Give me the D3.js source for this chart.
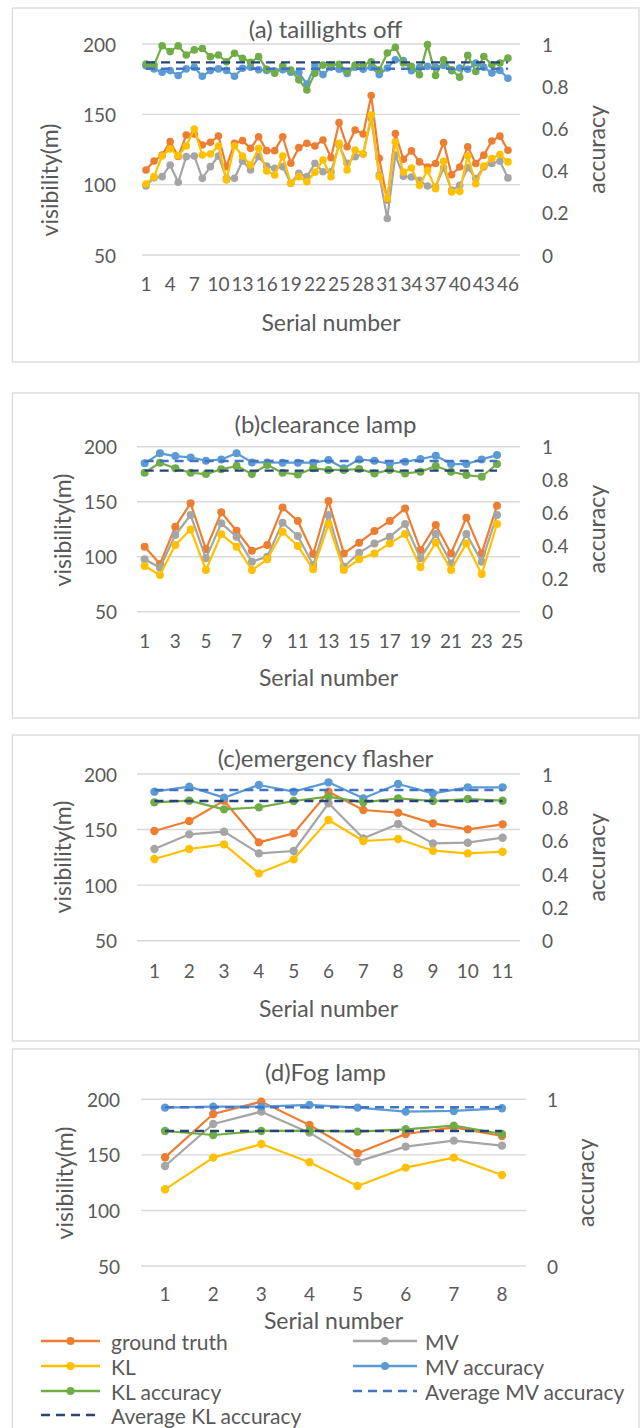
<!DOCTYPE html>
<html><head><meta charset="utf-8">
<script src="https://cdn.jsdelivr.net/npm/d3@7"></script>
<style>
body{margin:0;background:#fff}
text{font-family:Lato,'Open Sans',sans-serif;fill:#595959}
</style>
</head><body>
<svg id="c" width="641" height="1428"></svg>
<script>
// ---------- DATA ----------
const leftTicks = [50, 100, 150, 200];
const rightTicks = [0, 0.2, 0.4, 0.6, 0.8, 1];
const rightTicksD = [0, 1];
const seriesNames = ["ground truth", "MV", "KL", "MV accuracy", "KL accuracy", "Average MV accuracy", "Average KL accuracy"];

// (a) taillights off : 46 samples (47 category slots)
const truthA = [110.4,116.8,121,130.6,120,135.3,136,128.2,130.1,134.6,112.8,129.4,131.3,125.8,134.1,124.2,124.2,134.1,115.2,126.3,129.4,127.5,131.8,119.2,144.1,127,138.9,136,163.3,118.7,89.1,136.4,118.1,124,116.2,112.6,115,130,107.1,112.6,126.9,115,121,131,134.5,124.5];
const mvA = [99,105,105.7,114,101.7,119.9,120.4,104.5,112.8,120.4,104.5,104.5,116.8,110.4,119.9,113.3,111.6,112.8,101,108.1,105.7,115.2,109.2,109.2,128.2,115.2,119.9,121.8,147,106.9,76,121,106,105.5,103.1,99,98.3,112,96,99.5,112,104.3,112.6,115,116.7,104.8];
const klA = [100.5,105.7,120.4,125.4,120.6,127.5,139.6,121.1,121.8,127.5,103.3,127.7,120.4,114,125.8,109.7,106.9,120.4,101,105.7,102.1,108.8,117.5,105.7,129.4,110.4,124.6,121.8,149.5,105.7,90.3,130.5,109,111.9,99.5,110.2,97.1,116.7,94.8,95.2,120.5,100.7,113.3,118.6,121.4,116.2];
const mvAccA = [.897,.882,.866,.874,.851,.882,.89,.847,.874,.882,.875,.847,.885,.89,.878,.875,.872,.878,.866,.866,.81,.897,.855,.89,.88,.86,.89,.88,.89,.855,.886,.925,.921,.873,.889,.894,.89,.898,.873,.886,.88,.91,.89,.862,.875,.838];
const klAccA = [.905,.90,.992,.964,.991,.948,.972,.979,.94,.948,.916,.956,.932,.913,.94,.88,.861,.896,.877,.83,.782,.861,.9,.9,.904,.869,.9,.9,.916,.877,.957,.984,.91,.894,.854,.997,.851,.925,.878,.843,.946,.87,.941,.902,.91,.933];
const avgMvA = 0.883, avgKlA = 0.913;

// (b) clearance lamp : 24 samples (25 category slots)
const truthB = [109.1,93.3,127.3,148.5,106.7,140.3,123.6,105.5,110.6,144.8,132.4,102.4,150.6,103,112.7,123.3,132.4,143.9,106.1,128.8,103,135.5,103,146.4];
const mvB = [97.6,90,119.7,137.9,98.5,130.3,118.2,95.5,100,130.9,118.8,92.4,137.9,90.9,103.6,112.1,118.2,129.7,98.5,120.6,93.9,120.6,95.5,137.9];
const klB = [91.5,83.3,110.6,124.8,87.9,120.3,109.1,87.9,97.6,122.7,109.7,88.5,129.7,87.9,97.6,103,112.1,120.6,90.3,112.7,87.9,112.1,84.2,129.7];
const mvAccB = [.899,.96,.943,.935,.915,.923,.96,.905,.905,.903,.903,.903,.919,.869,.923,.915,.895,.909,.925,.945,.895,.895,.923,.949];
const klAccB = [.842,.903,.869,.842,.834,.863,.883,.834,.889,.842,.832,.869,.859,.859,.865,.838,.859,.838,.848,.883,.848,.828,.818,.895];
const avgMvB = 0.913, avgKlB = 0.855;

// (c) emergency flasher : 11 samples
const truthC = [148.7,157.7,176,138.5,146.6,184.1,167.6,165.2,155.6,150.2,154.7];
const mvC = [132.5,145.7,148.1,128.6,130.7,173.6,142.1,155,137.6,138.2,142.7];
const klC = [123.5,132.5,136.7,110.6,123.2,158.6,139.7,141.5,131,128.6,130.1];
const mvAccC = [.894,.924,.858,.934,.894,.95,.854,.94,.884,.92,.92];
const klAccC = [.83,.84,.788,.8,.838,.864,.83,.854,.838,.85,.84];
const avgMvC = 0.904, avgKlC = 0.838;

// (d) Fog lamp : 8 samples
const truthD = [147.8,186.8,197.9,176.9,151.4,168.8,174.8,167];
const mvD = [140,177.8,188.9,170,143.9,157.4,162.8,158.3];
const klD = [119,147.5,159.8,143.3,122,138.5,147.5,131.9];
const mvAccD = [.95,.956,.956,.966,.95,.926,.93,.946];
const klAccD = [.81,.786,.81,.812,.806,.82,.842,.792];
const avgMvD = 0.952, avgKlD = 0.81;

// ---------- STYLE / LAYOUT ----------
const COL = {truth:'#ED7D31', mv:'#A5A5A5', kl:'#FFC000', mvAcc:'#5B9BD5', klAcc:'#70AD47', avgMv:'#4472C4', avgKl:'#264478'};
const GRID = '#D9D9D9';
const FS = {tick:19, axisTitle:23, title:24, legend:21};

const panels = [
  {title:'(a) taillights off', slots:47, step:3, left:142, right:520, top:44, bottom:255,
   box:[12.5,8,639,362], lx:116, rx:542, rTicks:rightTicks, visX:49, visY:180, accX:596,
   xlabY:283, xtitleY:322, titleY:28, r:3.8,
   truth:truthA, mv:mvA, kl:klA, mvAcc:mvAccA, klAcc:klAccA, avgMv:avgMvA, avgKl:avgKlA},
  {title:'(b)clearance lamp', slots:25, step:2, left:137, right:520, top:446.7, bottom:611.7,
   box:[12.5,393,639,718], lx:117, rx:542, rTicks:rightTicks, visX:62, visY:530, accX:596,
   xlabY:640, xtitleY:677, titleY:423, r:4,
   truth:truthB, mv:mvB, kl:klB, mvAcc:mvAccB, klAcc:klAccB, avgMv:avgMvB, avgKl:avgKlB},
  {title:'(c)emergency flasher', slots:11, step:1, left:137, right:520, top:774, bottom:940.7,
   box:[12.5,735,639,1041], lx:117, rx:542, rTicks:rightTicks, visX:62, visY:857, accX:596,
   xlabY:970, xtitleY:1008, titleY:757, r:4.2,
   truth:truthC, mv:mvC, kl:klC, mvAcc:mvAccC, klAcc:klAccC, avgMv:avgMvC, avgKl:avgKlC},
  {title:'(d)Fog lamp', slots:8, step:1, left:141, right:526, top:1099.3, bottom:1266,
   box:[12.5,1049,639,1450], lx:120, rx:547, rTicks:rightTicksD, visX:64, visY:1183, accX:585,
   xlabY:1293, xtitleY:1320, titleY:1071, r:4.2,
   truth:truthD, mv:mvD, kl:klD, mvAcc:mvAccD, klAcc:klAccD, avgMv:avgMvD, avgKl:avgKlD}
];

const svg = d3.select('#c');
svg.append('rect').attr('width',641).attr('height',1428).attr('fill','#fff');

function txt(g, s, x, y, size, anchor, rot){
  const t = g.append('text').attr('x',x).attr('y',y).attr('font-size',size)
    .attr('dominant-baseline','central').attr('text-anchor',anchor||'middle').text(s);
  if(rot) t.attr('transform',`rotate(${rot},${x},${y})`);
  return t;
}

panels.forEach(p=>{
  const g = svg.append('g');
  g.append('rect').attr('x',p.box[0]).attr('y',p.box[1])
    .attr('width',p.box[2]-p.box[0]).attr('height',p.box[3]-p.box[1])
    .attr('fill','#fff').attr('stroke',GRID).attr('stroke-width',1.3);

  const cats = d3.range(1, p.slots+1);
  const x = d3.scaleBand().domain(cats).range([p.left,p.right]).padding(0);
  const cx = i => x(i) + x.bandwidth()/2;
  const y = d3.scaleLinear().domain([50,200]).range([p.bottom,p.top]);
  const y2 = d3.scaleLinear().domain([0,1]).range([p.bottom,p.top]);

  g.selectAll(null).data(leftTicks).enter().append('line')
    .attr('x1',p.left).attr('x2',p.right).attr('y1',d=>y(d)).attr('y2',d=>y(d))
    .attr('stroke',GRID).attr('stroke-width',1.4);

  leftTicks.forEach(v=>txt(g, String(v), p.lx, y(v), FS.tick, 'end'));
  p.rTicks.forEach(v=>txt(g, d3.format('~g')(v), p.rx, y2(v), FS.tick, 'start'));
  cats.filter((c,i)=>i%p.step===0).forEach(c=>txt(g, String(c), cx(c), p.xlabY, FS.tick, 'middle'));

  txt(g, p.title, 325.5, p.titleY, FS.title, 'middle');
  txt(g, 'Serial number', (p.left+p.right)/2, p.xtitleY, FS.axisTitle, 'middle');
  txt(g, 'visibility(m)', p.visX, p.visY, FS.axisTitle, 'middle', -90);
  txt(g, 'accuracy', p.accX, (p.top+p.bottom)/2, FS.axisTitle, 'middle', -90);

  const series = [
    {vals:p.truth, c:COL.truth, s:y},
    {vals:p.mv, c:COL.mv, s:y},
    {vals:p.kl, c:COL.kl, s:y},
    {vals:p.mvAcc, c:COL.mvAcc, s:y2},
    {vals:p.klAcc, c:COL.klAcc, s:y2}
  ];
  series.forEach(se=>{
    const line = d3.line().x((d,i)=>cx(i+1)).y(d=>se.s(d));
    g.append('path').attr('d',line(se.vals)).attr('fill','none')
      .attr('stroke',se.c).attr('stroke-width',2.2).attr('stroke-linejoin','round');
    g.selectAll(null).data(se.vals).enter().append('circle')
      .attr('cx',(d,i)=>cx(i+1)).attr('cy',d=>se.s(d)).attr('r',p.r).attr('fill',se.c);
  });
  const nData = p.truth.length;
  [[p.avgMv, COL.avgMv],[p.avgKl, COL.avgKl]].forEach(([v,c])=>{
    g.append('line').attr('x1',cx(1)).attr('x2',cx(nData)).attr('y1',y2(v)).attr('y2',y2(v))
      .attr('stroke',c).attr('stroke-width',2.4).attr('stroke-dasharray','9,6');
  });
});

// legend (inside panel d)
const legendItems = [
  {name:seriesNames[0], c:COL.truth, dash:false},
  {name:seriesNames[1], c:COL.mv, dash:false},
  {name:seriesNames[2], c:COL.kl, dash:false},
  {name:seriesNames[3], c:COL.mvAcc, dash:false},
  {name:seriesNames[4], c:COL.klAcc, dash:false},
  {name:seriesNames[5], c:COL.avgMv, dash:true},
  {name:seriesNames[6], c:COL.avgKl, dash:true}
];
const lg = svg.append('g');
const colX = [[41,100,111],[353,417,425]];
const rowY = [1341,1366,1391,1415];
legendItems.forEach((it,i)=>{
  const cxl = colX[i%2], ry = rowY[Math.floor(i/2)];
  lg.append('line').attr('x1',cxl[0]).attr('x2',cxl[1]).attr('y1',ry).attr('y2',ry)
    .attr('stroke',it.c).attr('stroke-width',2.4).attr('stroke-dasharray',it.dash?'9,6':null);
  if(!it.dash) lg.append('circle').attr('cx',(cxl[0]+cxl[1])/2).attr('cy',ry).attr('r',4).attr('fill',it.c);
  txt(lg, it.name, cxl[2], ry, FS.legend, 'start');
});
</script>
</body></html>
